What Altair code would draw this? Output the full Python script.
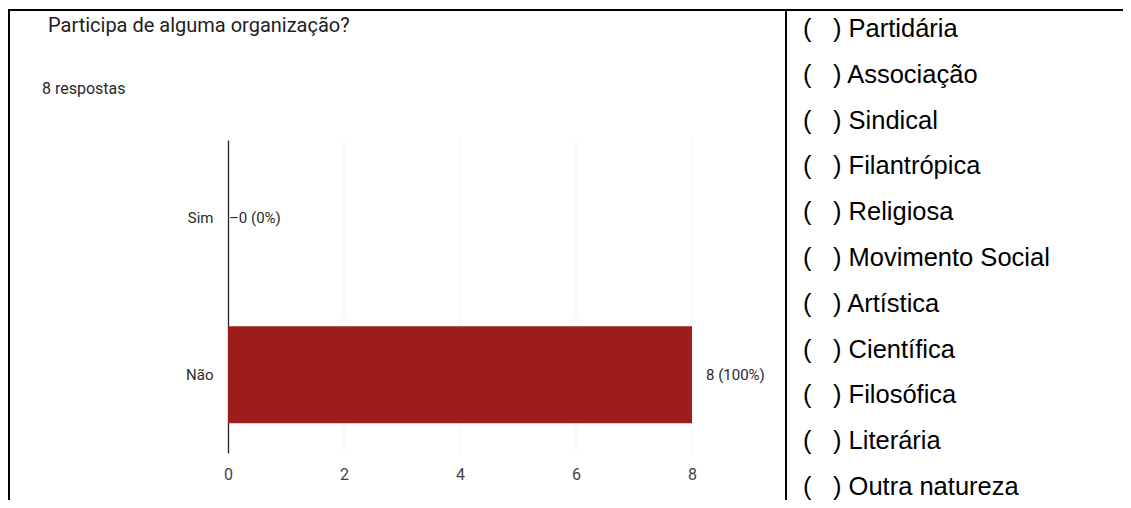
import altair as alt
import pandas as pd

# ---- data ----
question = "Participa de alguma organização?"
responses_note = "8 respostas"
answers = ["Sim", "Não"]
counts = [0, 8]
percents = ["0%", "100%"]
x_ticks = [0, 2, 4, 6, 8]
options = ["Partidária", "Associação", "Sindical", "Filantrópica", "Religiosa",
           "Movimento Social", "Artística", "Científica", "Filosófica",
           "Literária", "Outra natureza"]

W, H = 1115, 492
BAR = "#9d1c1c"
LEFT_FONT = "Roboto"
RIGHT_FONT = "Liberation Sans"

bar_df = pd.DataFrame({
    "answer": answers,
    "count": counts,
    "label": [f"{c} ({p})" for c, p in zip(counts, percents)],
})
grid_df = pd.DataFrame({"t": x_ticks[1:]})
opt_df = pd.DataFrame({"option": options})
one = pd.DataFrame({"k": [0]})

xs = alt.Scale(domain=[0, 8], range=[220, 684], nice=False, zero=True)
ys = alt.Scale(domain=answers, range=[132, 445], paddingInner=0.38, paddingOuter=0.19)

x_enc = alt.X("count:Q", scale=xs, axis=alt.Axis(
    title=None, values=x_ticks, offset=-47, domain=False, ticks=False, tickSize=0,
    labelPadding=13, labelFont=LEFT_FONT, labelFontSize=16, labelColor="#444444",
    grid=False, labelFlush=False, format="d"))
y_enc = alt.Y("answer:N", scale=ys, sort=answers, axis=alt.Axis(
    title=None, offset=-220, domainColor="#222222", domainWidth=1.3, ticks=False,
    tickSize=0, labelPadding=15, labelFont=LEFT_FONT, labelFontSize=15,
    labelColor="#2a2a2a", grid=False))

grid = alt.Chart(grid_df).mark_rule(color="#f5f5f5", strokeWidth=1).encode(
    x=alt.X("t:Q", scale=xs), y=alt.value(132), y2=alt.value(445))

bars = alt.Chart(bar_df).mark_bar(color=BAR).encode(x=x_enc, y=y_enc)

lbl_zero = alt.Chart(bar_df).transform_filter("datum.count == 0").transform_calculate(
    txt="'–' + datum.label").mark_text(
    align="left", baseline="middle", dx=1, font=LEFT_FONT, fontSize=15, color="#2a2a2a"
).encode(x=alt.X("count:Q", scale=xs), y=alt.Y("answer:N", scale=ys, sort=answers),
         text="txt:N")

lbl_pos = alt.Chart(bar_df).transform_filter("datum.count > 0").mark_text(
    align="left", baseline="middle", dx=14, font=LEFT_FONT, fontSize=15, color="#2a2a2a"
).encode(x=alt.X("count:Q", scale=xs), y=alt.Y("answer:N", scale=ys, sort=answers),
         text="label:N")

left = alt.layer(grid, bars, lbl_zero, lbl_pos)

title_txt = alt.Chart(one).mark_text(
    align="left", baseline="alphabetic", font=LEFT_FONT, fontSize=20, color="#1e1e1e"
).encode(x=alt.value(40), y=alt.value(24), text=alt.value(question))

sub_txt = alt.Chart(one).mark_text(
    align="left", baseline="alphabetic", font=LEFT_FONT, fontSize=16, color="#2a2a2a"
).encode(x=alt.value(34), y=alt.value(86), text=alt.value(responses_note))

oys = alt.Scale(type="point", domain=options, range=[29, 487], padding=0)
open_p = alt.Chart(opt_df).mark_text(
    align="left", baseline="alphabetic", font=RIGHT_FONT, fontSize=25.5, color="#000000"
).encode(x=alt.value(795), y=alt.Y("option:N", scale=oys, sort=options, axis=None),
         text=alt.value("("))
items = alt.Chart(opt_df).transform_calculate(txt="') ' + datum.option").mark_text(
    align="left", baseline="alphabetic", font=RIGHT_FONT, fontSize=25.5, color="#000000"
).encode(x=alt.value(825), y=alt.Y("option:N", scale=oys, sort=options, axis=None),
         text="txt:N")
checklist = alt.layer(open_p, items)

rule_left = alt.Chart(one).mark_rule(color="#000000", strokeWidth=2).encode(
    x=alt.value(1), y=alt.value(1), y2=alt.value(H))
rule_top = alt.Chart(one).mark_rule(color="#000000", strokeWidth=2).encode(
    x=alt.value(0), x2=alt.value(W), y=alt.value(2))
rule_mid = alt.Chart(one).mark_rule(color="#000000", strokeWidth=2).encode(
    x=alt.value(778), y=alt.value(2), y2=alt.value(H))
deco = alt.layer(rule_left, rule_top, rule_mid)

chart = alt.layer(left, checklist, title_txt, sub_txt, deco).resolve_scale(
    x="independent", y="independent"
).properties(
    width=W, height=H, autosize=alt.AutoSizeParams(type="none"), padding=0,
    background="white"
).configure_view(stroke=None)

chart.save("out.html", embed_options={"renderer": "svg", "actions": False})
